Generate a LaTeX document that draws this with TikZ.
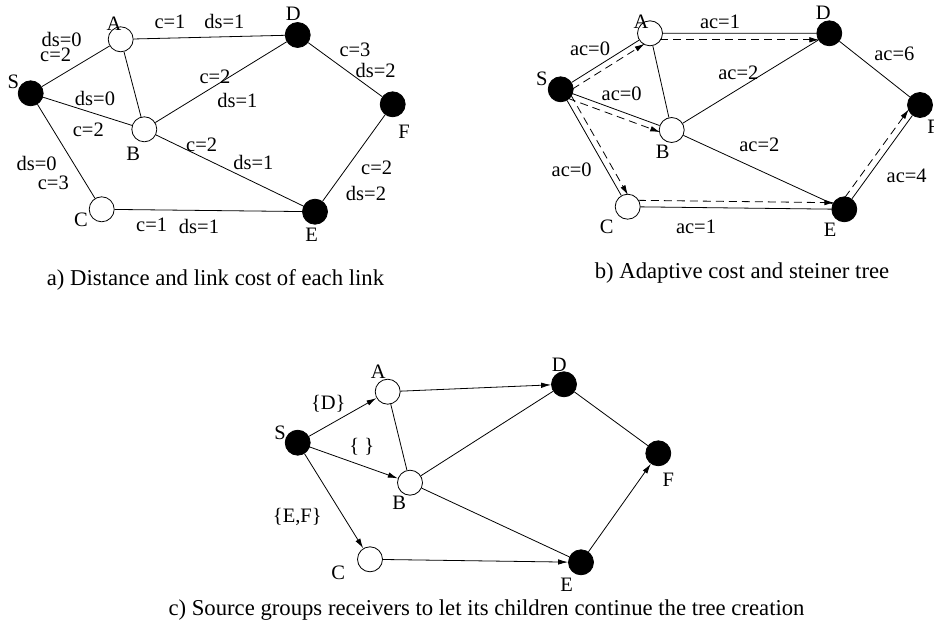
\documentclass[tikz,border=0pt]{standalone}
\usepackage{fontspec}
\setmainfont{Liberation Serif}
\usetikzlibrary{arrows.meta,calc}
\begin{document}
\begin{tikzpicture}[x=1pt,y=-1pt,
  vtx/.style={circle,draw,line width=0.8pt,minimum size=25pt,inner sep=0pt},
  open/.style={vtx,fill=white},
  recv/.style={vtx,fill=black},
  lbl/.style={font=\fontsize{20.5}{24}\selectfont,inner sep=0pt},
  caption/.style={font=\fontsize{22.7}{26}\selectfont,inner sep=0pt,anchor=base},
  link/.style={line width=0.8pt},
  tree/.style={link,-{Latex[length=10pt,width=5.5pt]}},
  hop/.style={link,dash pattern=on 8pt off 5pt,-{Latex[length=10pt,width=5.5pt]},shorten <=10pt,shorten >=10pt},
]
\useasboundingbox (0,0) rectangle (934,623);

% ---------- a) distance and link cost ----------
\node[recv] (aS) at (30.7,93.3) {};
\node[open] (aA) at (120.7,39.3) {};
\node[recv] (aD) at (297.7,35) {};
\node[open] (aB) at (144.3,129.3) {};
\node[recv] (aF) at (392.7,104.3) {};
\node[open] (aC) at (101.7,209.3) {};
\node[recv] (aE) at (315,211.7) {};
\draw[link] (aS) -- (aA) (aS) -- (aB) (aS) -- (aC) (aA) -- (aD) (aA) -- (aB)
  (aB) -- (aD) (aB) -- (aE) (aD) -- (aF) (aF) -- (aE) (aC) -- (aE);
\node[lbl] (aSl) at (13.3,81.7) {S};
\node[lbl] (aAl) at (114,23.3) {A};
\node[lbl] (aDl) at (293.3,14) {D};
\node[lbl] (aBl) at (133.3,154) {B};
\node[lbl] (aFl) at (404,131.7) {F};
\node[lbl] (aCl) at (81,220) {C};
\node[lbl] (aEl) at (311.7,235) {E};
\node[lbl] (a1) at (61.7,39) {ds=0};
\node[lbl] (a2) at (55.7,54.5) {c=2};
\node[lbl] (a3) at (170,21.7) {c=1};
\node[lbl] (a4) at (224.3,21.7) {ds=1};
\node[lbl] (a5) at (355,50) {c=3};
\node[lbl] (a6) at (375.7,70) {ds=2};
\node[lbl] (a7) at (215,76.7) {c=2};
\node[lbl] (a8) at (237.3,100) {ds=1};
\node[lbl] (a9) at (95,98.3) {ds=0};
\node[lbl] (a10) at (88.3,130) {c=2};
\node[lbl] (a11) at (201.7,145) {c=2};
\node[lbl] (a12) at (253.3,162.7) {ds=1};
\node[lbl] (a13) at (36.7,163.3) {ds=0};
\node[lbl] (a14) at (53.3,183.3) {c=3};
\node[lbl] (a15) at (376.7,168.3) {c=2};
\node[lbl] (a16) at (366,193.3) {ds=2};
\node[lbl] (a17) at (151.7,225) {c=1};
\node[lbl] (a18) at (199,226.7) {ds=1};
\node[caption] (capa) at (215.5,285) {a) Distance and link cost of each link};

% ---------- b) adaptive cost and steiner tree ----------
\node[recv] (bS) at (560.7,89.3) {};
\node[open] (bA) at (650,33.3) {};
\node[recv] (bD) at (829.3,33.3) {};
\node[open] (bB) at (671.7,130) {};
\node[recv] (bF) at (920,105) {};
\node[open] (bC) at (627.7,206.7) {};
\node[recv] (bE) at (844.3,209.3) {};
\draw[link] (bS) -- (bA) (bS) -- (bB) (bS) -- (bC) (bA) -- (bD) (bA) -- (bB)
  (bB) -- (bD) (bB) -- (bE) (bD) -- (bF) (bF) -- (bE) (bC) -- (bE);
% steiner tree, drawn beside its links
\draw[hop] ($(bS)!6pt!-90:(bA)$) -- ($(bA)!6pt!90:(bS)$);
\draw[hop] ($(bA)!6.5pt!-90:(bD)$) -- ($(bD)!6.5pt!90:(bA)$);
\draw[hop] ($(bS)!6pt!-90:(bB)$) -- ($(bB)!6pt!90:(bS)$);
\draw[hop] ($(bS)!6pt!90:(bC)$) -- ($(bC)!6pt!-90:(bS)$);
\draw[hop] ($(bC)!6.5pt!90:(bE)$) -- ($(bE)!6.5pt!-90:(bC)$);
\draw[hop] ($(bE)!6.5pt!90:(bF)$) -- ($(bF)!6.5pt!-90:(bE)$);
\node[lbl] (bSl) at (541.7,79.3) {S};
\node[lbl] (bAl) at (641,21.7) {A};
\node[lbl] (bDl) at (823.3,12.7) {D};
\node[lbl] (bBl) at (662.7,151.7) {B};
\node[lbl] (bFl) at (933,127) {F};
\node[lbl] (bCl) at (606.7,226.7) {C};
\node[lbl] (bEl) at (830,230) {E};
\node[lbl] (b1) at (590,48.3) {ac=0};
\node[lbl] (b2) at (720,21.7) {ac=1};
\node[lbl] (b3) at (894.3,54) {ac=6};
\node[lbl] (b4) at (621.7,94) {ac=0};
\node[lbl] (b5) at (738.3,73.3) {ac=2};
\node[lbl] (b6) at (759.3,145) {ac=2};
\node[lbl] (b7) at (571.7,169.3) {ac=0};
\node[lbl] (b8) at (906.7,176) {ac=4};
\node[lbl] (b9) at (696,226.7) {ac=1};
\node[caption] (capb) at (742,278) {b) Adaptive cost and steiner tree};

% ---------- c) source groups receivers ----------
\node[recv] (cS) at (297.7,442.7) {};
\node[open] (cA) at (387.7,391.7) {};
\node[recv] (cD) at (564,384.3) {};
\node[open] (cB) at (410,482.7) {};
\node[recv] (cF) at (658.3,453.3) {};
\node[open] (cC) at (370,559.3) {};
\node[recv] (cE) at (581,562.3) {};
\draw[link] (cA) -- (cB) (cB) -- (cD) (cB) -- (cE) (cD) -- (cF);
\draw[tree] (cS) -- (cA);
\draw[tree] (cS) -- (cB);
\draw[tree] (cS) -- (cC);
\draw[tree] (cA) -- (cD);
\draw[tree] (cC) -- (cE);
\draw[tree] (cE) -- (cF);
\node[lbl] (cSl) at (280,433.3) {S};
\node[lbl] (cAl) at (378.3,371.7) {A};
\node[lbl] (cDl) at (559.3,365) {D};
\node[lbl] (cBl) at (399.3,503.3) {B};
\node[lbl] (cFl) at (668.3,480) {F};
\node[lbl] (cCl) at (338.3,573.3) {C};
\node[lbl] (cEl) at (566.7,585) {E};
\node[lbl] (c1) at (328.3,403.3) {\{D\}};
\node[lbl] (c2) at (361.7,446.7) {\{ \}};
\node[lbl] (c3) at (297.3,516.7) {\{E,F\}};
\node[caption] (capc) at (486.5,615) {c) Source groups receivers to let its children continue the tree creation};
\end{tikzpicture}
\end{document}
